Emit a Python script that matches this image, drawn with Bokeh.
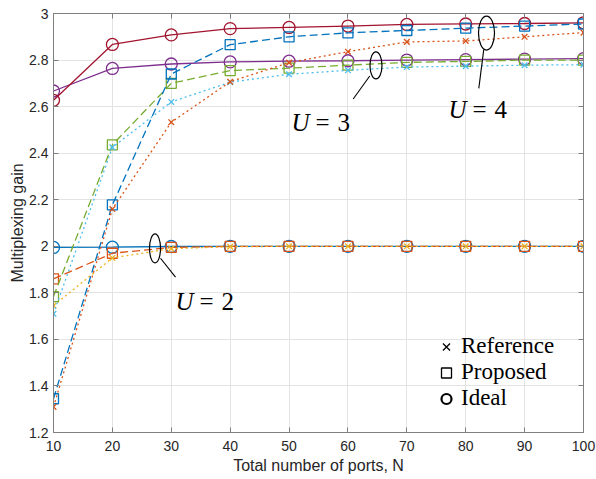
from bokeh.plotting import figure
from bokeh.models import (LinearAxis, FixedTicker, Legend, LegendItem, Range1d,
                          CustomJSTickFormatter)
from bokeh.embed import file_html
from bokeh.resources import INLINE
from bokeh.core.properties import value

# ---------------- data ----------------
N = [10, 20, 30, 40, 50, 60, 70, 80, 90, 100]

ideal_u2 = [1.995, 1.996, 1.999, 2.0, 2.0, 2.0, 2.0, 2.0, 2.0, 2.0]
prop_u2 = [1.86, 1.97, 1.995, 2.0, 2.0, 2.0, 2.0, 2.0, 2.0, 2.0]
ref_u2 = [1.745, 1.95, 1.99, 1.998, 2.0, 2.0, 2.0, 2.0, 2.0, 2.0]

ideal_u3 = [2.667, 2.764, 2.783, 2.792, 2.795, 2.797, 2.80, 2.802, 2.804, 2.806]
prop_u3 = [1.784, 2.436, 2.70, 2.755, 2.765, 2.778, 2.79, 2.794, 2.80, 2.80]
ref_u3 = [1.71, 2.425, 2.62, 2.705, 2.739, 2.756, 2.77, 2.774, 2.778, 2.78]

ideal_u4 = [2.627, 2.867, 2.908, 2.935, 2.94, 2.946, 2.953, 2.955, 2.957, 2.96]
prop_u4 = [1.345, 2.178, 2.74, 2.866, 2.90, 2.917, 2.927, 2.937, 2.946, 2.955]
ref_u4 = [1.31, 2.16, 2.533, 2.707, 2.789, 2.836, 2.878, 2.882, 2.90, 2.918]

x_ticks = [10, 20, 30, 40, 50, 60, 70, 80, 90, 100]
y_ticks = [1.2, 1.4, 1.6, 1.8, 2.0, 2.2, 2.4, 2.6, 2.8, 3.0]
y_tick_labels = ["1.2", "1.4", "1.6", "1.8", "2", "2.2", "2.4", "2.6", "2.8", "3"]

legend_labels = ["Reference", "Proposed", "Ideal"]

# annotation: ellipse centres and line segments (data coords)
ell_x = [27.24, 64.76, 83.53]
ell_y = [1.991, 2.777, 2.916]
ell_w = [11, 12, 16]
ell_h = [29, 27, 34]
seg_x0 = [28.17, 63.7, 83.07]
seg_y0 = [1.9486, 2.7313, 2.8457]
seg_x1 = [30.72, 60.89, 82.22]
seg_y1 = [1.8672, 2.6326, 2.6786]
lab_x = [30.72, 50.41, 77.07]
lab_y = [1.764, 2.531, 2.5886]
lab_n = ["2", "3", "4"]

# ---------------- colours ----------------
BLUE = "#0072BD"
ORANGE = "#D95319"
YELLOW = "#EDB120"
PURPLE = "#7E2F8E"
GREEN = "#77AC30"
LBLUE = "#4DBEEE"
DRED = "#A2142F"

p = figure(width=596, height=479,
           x_range=Range1d(10, 100), y_range=Range1d(1.2, 3.0),
           output_backend="svg", toolbar_location=None,
           min_border_left=53, min_border_right=13,
           min_border_top=13, min_border_bottom=47)
p.outline_line_color = None
p.background_fill_color = "white"

AX = "#7f7f7f"
TXT = "#262626"


def style_axis(ax, labels=True):
    ax.axis_line_color = AX
    ax.axis_line_width = 1
    ax.major_tick_line_color = AX
    ax.major_tick_in = 5
    ax.major_tick_out = 0
    ax.minor_tick_line_color = None
    ax.major_label_text_font = "Liberation Sans"
    ax.major_label_text_font_size = "14px"
    ax.major_label_text_color = TXT
    if not labels:
        ax.formatter = CustomJSTickFormatter(code="return ''")
        ax.major_label_standoff = 0


p.xaxis.ticker = FixedTicker(ticks=x_ticks)
p.yaxis.ticker = FixedTicker(ticks=y_ticks)
p.yaxis.major_label_overrides = {t: l for t, l in zip(y_ticks, y_tick_labels)}
style_axis(p.xaxis[0])
style_axis(p.yaxis[0])
p.xaxis.major_label_standoff = 8
p.yaxis.major_label_standoff = 5
p.xaxis.axis_label = "Total number of ports, N"
p.yaxis.axis_label = "Multiplexing gain"
for ax in (p.xaxis[0], p.yaxis[0]):
    ax.axis_label_text_font = "Liberation Sans"
    ax.axis_label_text_font_size = "16px"
    ax.axis_label_text_font_style = "normal"
    ax.axis_label_text_color = TXT
p.xaxis.axis_label_standoff = 3
p.yaxis.axis_label_standoff = 0

top = LinearAxis(ticker=FixedTicker(ticks=x_ticks))
right = LinearAxis(ticker=FixedTicker(ticks=y_ticks))
style_axis(top, labels=False)
style_axis(right, labels=False)
p.add_layout(top, "above")
p.add_layout(right, "right")

p.grid.grid_line_color = "#e3e3e3"
p.xgrid.ticker = FixedTicker(ticks=x_ticks)
p.ygrid.ticker = FixedTicker(ticks=y_ticks)

LW = 1.3
DASH = "8 4"
DOT = "2 3"


def series(ys, color, kind):
    if kind == "ideal":
        p.line(N, ys, line_color=color, line_width=LW)
        p.scatter(N, ys, marker="circle", size=12, fill_color=None,
                  line_color=color, line_width=1.3)
    elif kind == "prop":
        p.line(N, ys, line_color=color, line_width=LW, line_dash=DASH)
        p.scatter(N, ys, marker="square", size=10, fill_color=None,
                  line_color=color, line_width=1.3)
    else:
        p.line(N, ys, line_color=color, line_width=LW, line_dash=DOT)
        p.scatter(N, ys, marker="x", size=8, line_color=color, line_width=1.3)


series(ideal_u2, BLUE, "ideal")
series(prop_u2, ORANGE, "prop")
series(ref_u2, YELLOW, "ref")
series(ideal_u3, PURPLE, "ideal")
series(prop_u3, GREEN, "prop")
series(ref_u3, LBLUE, "ref")
series(ideal_u4, DRED, "ideal")
series(prop_u4, BLUE, "prop")
series(ref_u4, ORANGE, "ref")

# annotations
p.ellipse(x=ell_x, y=ell_y, width=ell_w, height=ell_h,
          width_units="screen", height_units="screen",
          fill_color=None, line_color="black", line_width=1.2)
p.segment(seg_x0, seg_y0, seg_x1, seg_y1, line_color="black", line_width=1.1)

SERIF = value("Liberation Serif")
p.text(x=lab_x, y=lab_y, text=["U"] * 3, text_font=SERIF,
       text_font_style="italic", text_font_size="25px",
       text_baseline="alphabetic", text_align="left", text_color="black")
p.text(x=lab_x, y=lab_y, text=["="] * 3, text_font=SERIF,
       text_font_size="25px", x_offset=24,
       text_baseline="alphabetic", text_align="left", text_color="black")
p.text(x=lab_x, y=lab_y, text=lab_n, text_font=SERIF,
       text_font_size="25px", x_offset=46,
       text_baseline="alphabetic", text_align="left", text_color="black")

# legend (black markers, no lines)
nan = [float("nan")]
r_ref = p.scatter(nan, nan, marker="x", size=11, line_color="black", line_width=1.3)
r_prop = p.scatter(nan, nan, marker="square", size=11, fill_color=None,
                   line_color="black", line_width=1.3)
r_ideal = p.scatter(nan, nan, marker="circle", size=11, fill_color=None,
                    line_color="black", line_width=2.2)
legend = Legend(items=[LegendItem(label=legend_labels[0], renderers=[r_ref]),
                       LegendItem(label=legend_labels[1], renderers=[r_prop]),
                       LegendItem(label=legend_labels[2], renderers=[r_ideal])],
                location=(379, 21))
legend.border_line_color = None
legend.background_fill_alpha = 0
legend.padding = 0
legend.margin = 0
legend.spacing = 0
legend.glyph_width = 28
legend.glyph_height = 25
legend.label_height = 25
legend.label_standoff = 1
legend.label_text_font = "Liberation Serif"
legend.label_text_font_size = "23px"
legend.label_text_color = "black"
p.add_layout(legend)

open("out.html", "w").write(file_html(p, INLINE))
